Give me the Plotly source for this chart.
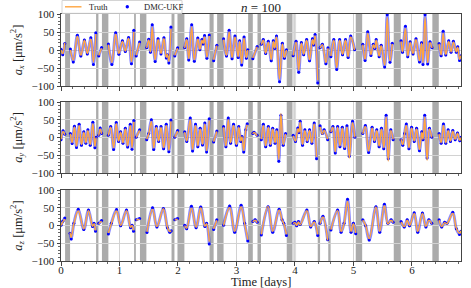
import plotly.graph_objects as go
from plotly.subplots import make_subplots

# gaps in the measurements (days)
GAP_START = [0.07, 0.60, 0.70, 1.25, 1.35, 1.89, 2.00, 2.54, 2.67, 3.20, 3.36, 3.86, 4.39, 4.57, 5.04, 5.69, 6.35]
GAP_END = [0.155, 0.64, 0.81, 1.28, 1.46, 1.94, 2.11, 2.61, 2.78, 3.28, 3.42, 3.96, 4.43, 4.61, 5.15, 5.81, 6.46]
GAP_LIGHT = [3.96, 4.02]

# a_x : turning points of each arc between gaps
T_AX = [
    [0.00, 0.03, 0.065],
    [0.16, 0.21, 0.28, 0.34, 0.40, 0.45, 0.51, 0.555, 0.595],
    [0.645, 0.695],
    [0.81, 0.87, 0.935, 0.99, 1.05, 1.10, 1.155, 1.205, 1.245],
    [1.285, 1.345],
    [1.465, 1.50, 1.53, 1.56, 1.61, 1.66, 1.71, 1.76, 1.80, 1.82, 1.845, 1.88],
    [1.945, 1.995],
    [2.115, 2.15, 2.185, 2.235, 2.28, 2.34, 2.375, 2.41, 2.43, 2.455, 2.495, 2.535],
    [2.61, 2.665],
    [2.78, 2.83, 2.875, 2.925, 2.975, 3.03, 3.055, 3.09, 3.13, 3.17, 3.195],
    [3.28, 3.355],
    [3.425, 3.46, 3.50, 3.545, 3.595, 3.63, 3.655, 3.685, 3.737, 3.785, 3.82, 3.855],
    [3.97, 4.02, 4.065, 4.11, 4.15, 4.20, 4.25, 4.30, 4.32, 4.345, 4.39],
    [4.43, 4.47, 4.53, 4.565],
    [4.615, 4.665, 4.715, 4.765, 4.815, 4.865, 4.91, 4.955, 5.02],
    [5.16, 5.20, 5.245, 5.30, 5.34, 5.365, 5.39, 5.44, 5.475, 5.535, 5.578, 5.625, 5.665],
    [5.815, 5.84, 5.89, 5.93, 5.97, 6.02, 6.07, 6.13, 6.165, 6.19, 6.225, 6.27, 6.31, 6.345],
    [6.465, 6.50, 6.535, 6.58, 6.63, 6.67, 6.71, 6.76, 6.785, 6.815, 6.84],
]
AX_TRUTH = [
    [0, -10, 20],
    [0, -28, 38, -15, 27, -10, 31, -33, 44],
    [-15, 5],
    [15, -34, 44, -10, 24, -3, 33, -32, 50],
    [-15, 20],
    [5, 28, -5, 63, -27, 29, -10, 32, -20, -12, -31, 58],
    [-15, 5],
    [5, 29, -24, 64, -27, 31, 2, 27, 18, 36, -20, 39],
    [-27, 12],
    [29, -15, 50, -21, 36, -19, 24, -37, 33, -21, 0],
    [-22, 9],
    [15, 27, -9, 22, -27, 24, 5, 36, -80, 17, -21, 0],
    [-15, 22, -56, 19, -12, 27, -27, 29, 15, 40, -84],
    [5, 15, -35, 5],
    [-17, 27, -49, 27, -12, 27, -19, 36, 0],
    [15, -26, 47, -13, 15, 5, 27, -17, 12, -42, 90, -30, 17],
    [24, -5, 60, -17, 21, -10, 29, -30, 19, -35, 90, -35, 21, 5],
    [17, -14, 47, -13, 24, -5, 22, -5, 8, -26, -15],
]
AX_UKF = [
    [2, -13, 18],
    [3, -33, 41, -17, 28, -11, 34, -40, 48],
    [-17, 7],
    [17, -40, 48, -12, 26, -4, 35, -38, 55],
    [-17, 22],
    [6, 30, -6, 70, -32, 31, -11, 34, -22, -13, -36, 64],
    [-17, 6],
    [6, 31, -28, 70, -31, 33, 1, 29, 17, 40, -23, 42],
    [-30, 13],
    [31, -17, 55, -24, 39, -21, 26, -42, 36, -23, 1],
    [-24, 10],
    [16, 29, -10, 24, -30, 26, 4, 39, -88, 19, -23, 1],
    [-16, 24, -62, 21, -13, 29, -30, 31, 14, 43, -92],
    [6, 16, -38, 6],
    [-19, 29, -54, 29, -13, 29, -21, 39, 1],
    [16, -29, 51, -15, 16, 4, 29, -19, 13, -47, 98, -34, 19],
    [26, -6, 66, -19, 23, -11, 31, -33, 20, -40, 98, -39, 23, 6],
    [18, -16, 52, -14, 26, -6, 24, -6, 9, -29, -16],
]

# a_y
T_AY = [
    [0.00, 0.035, 0.065],
    [0.16, 0.19, 0.23, 0.265, 0.31, 0.35, 0.39, 0.425, 0.46, 0.50, 0.545, 0.58, 0.60],
    [0.645, 0.67, 0.695],
    [0.81, 0.85, 0.90, 0.945, 0.985, 1.02, 1.06, 1.10, 1.14, 1.185, 1.215, 1.245],
    [1.285, 1.345],
    [1.465, 1.50, 1.545, 1.585, 1.63, 1.67, 1.71, 1.755, 1.80, 1.845, 1.88],
    [1.945, 1.995],
    [2.115, 2.15, 2.21, 2.25, 2.30, 2.34, 2.38, 2.42, 2.46, 2.49, 2.535],
    [2.61, 2.665],
    [2.78, 2.82, 2.86, 2.90, 2.95, 3.00, 3.04, 3.075, 3.095, 3.125, 3.16, 3.185],
    [3.28, 3.30, 3.355],
    [3.425, 3.46, 3.50, 3.545, 3.58, 3.62, 3.66, 3.69, 3.725, 3.76, 3.80, 3.84],
    [3.97, 4.01, 4.05, 4.07, 4.09, 4.13, 4.17, 4.21, 4.25, 4.29, 4.33, 4.37],
    [4.43, 4.47, 4.50, 4.56],
    [4.615, 4.65, 4.69, 4.73, 4.77, 4.81, 4.85, 4.89, 4.93, 4.985, 5.025],
    [5.16, 5.205, 5.26, 5.32, 5.36, 5.40, 5.44, 5.48, 5.52, 5.56, 5.595, 5.64, 5.68],
    [5.815, 5.845, 5.875, 5.905, 5.95, 5.995, 6.04, 6.08, 6.13, 6.17, 6.19, 6.22, 6.26, 6.30, 6.34],
    [6.465, 6.50, 6.54, 6.58, 6.62, 6.66, 6.70, 6.74, 6.78, 6.82, 6.84],
]
AY_TRUTH = [
    [-5, 17, 8],
    [10, -15, 30, -25, 34, -20, 15, -15, 20, -20, 39, -25, 0],
    [5, 24, 10],
    [5, 29, -29, 39, -10, 15, -15, 24, -24, 34, -29, 44],
    [0, 20],
    [-5, 10, 45, -30, 29, -10, 29, -29, 34, -36, 45],
    [0, 18],
    [15, -10, 50, -34, 34, -24, 24, -19, 38, -37, 48],
    [-12, 17],
    [29, -24, 50, -15, 34, -20, 29, -10, 2, -37, 20, 36],
    [10, 14, 5],
    [-5, 34, -24, 29, -20, 24, -15, 20, -62, 68, -20, 10],
    [5, -10, 25, 15, 43, -20, 20, -10, 20, -15, 38, -55],
    [30, 10, 20, -5],
    [15, 29, -40, 29, -24, 27, -29, 30, -58, 42, 0],
    [10, 31, -38, 27, -10, 20, -24, 24, -29, 58, -66, 20, -5],
    [-5, -20, 10, 34, -29, 27, -10, 24, -34, 15, -5, 58, -64, 24, 0],
    [10, -15, 34, -15, 20, -10, 18, -5, 12, -8, 0],
]
AY_UKF = [
    [-6, 19, 9],
    [11, -17, 32, -28, 37, -22, 16, -16, 22, -22, 43, -29, 1],
    [6, 27, 11],
    [6, 31, -34, 42, -11, 16, -16, 26, -27, 37, -33, 48],
    [1, 22],
    [-6, 11, 50, -34, 31, -11, 31, -32, 37, -40, 49],
    [1, 20],
    [16, -11, 55, -38, 37, -26, 26, -21, 41, -41, 53],
    [-13, 18],
    [31, -26, 55, -16, 37, -22, 31, -11, 3, -41, 22, 39],
    [11, 15, 6],
    [-6, 37, -26, 31, -22, 26, -16, 22, -67, 63, -22, 11],
    [6, -11, 27, 14, 46, -22, 22, -11, 22, -16, 41, -60],
    [33, 11, 22, -6],
    [16, 31, -44, 31, -26, 29, -31, 33, -53, 46, 1],
    [11, 34, -42, 29, -11, 22, -26, 26, -32, 63, -60, 22, -6],
    [-6, -22, 11, 38, -32, 29, -11, 26, -37, 16, -6, 63, -58, 26, 1],
    [11, -16, 38, -16, 22, -11, 20, -6, 13, -9, 1],
]

# a_z
T_AZ = [
    [0.00, 0.03, 0.065],
    [0.155, 0.175, 0.22, 0.295, 0.39, 0.47, 0.54, 0.565, 0.59],
    [0.645, 0.695],
    [0.81, 0.86, 0.95, 1.02, 1.12, 1.19, 1.215, 1.24],
    [1.285, 1.345],
    [1.47, 1.565, 1.64, 1.75, 1.82, 1.86, 1.885],
    [1.945, 1.995],
    [2.115, 2.15, 2.23, 2.31, 2.39, 2.46, 2.49, 2.535],
    [2.61, 2.665],
    [2.78, 2.884, 2.97, 3.08, 3.14, 3.195],
    [3.28, 3.32, 3.355],
    [3.425, 3.54, 3.62, 3.73, 3.78, 3.81, 3.855],
    [3.97, 4.00, 4.03, 4.06, 4.09, 4.204, 4.27, 4.33, 4.39],
    [4.43, 4.48, 4.56],
    [4.615, 4.73, 4.79, 4.84, 4.90, 4.96, 5.00, 5.04],
    [5.16, 5.21, 5.27, 5.385, 5.45, 5.53, 5.59, 5.645, 5.68],
    [5.815, 5.87, 5.92, 5.96, 6.04, 6.10, 6.18, 6.24, 6.29, 6.34],
    [6.465, 6.51, 6.56, 6.60, 6.70, 6.76, 6.815, 6.84],
]
AZ_TRUTH = [
    [0, 10, 18],
    [-20, -33, 5, 41, -10, 42, -2, 5, -14],
    [5, 12],
    [-21, 5, 41, 0, 42, -5, 0, -14],
    [15, 18],
    [-18, 45, -3, 47, -5, -17, -14],
    [15, 18],
    [0, -8, 49, -5, 50, -2, 5, -45],
    [-10, 15],
    [0, 50, -17, 53, 5, -40],
    [10, 15, 8],
    [-25, 54, -17, 44, 15, 5, -25],
    [5, 8, 0, 10, 2, 42, -3, 10, -25],
    [5, 24, -42],
    [-12, 42, -17, 5, 68, -17, 5, -21],
    [15, 0, -37, 52, -17, 56, 5, 15, 8],
    [10, -3, 15, 0, 34, -17, 34, -3, 15, 5],
    [15, -3, 8, 5, 34, -8, -22, -15],
]
AZ_UKF = [
    [1, 12, 21],
    [-22, -38, 6, 46, -11, 44, -3, 6, -16],
    [6, 14],
    [-24, 6, 45, -1, 44, -6, 1, -16],
    [16, 20],
    [-20, 50, -4, 48, -6, -19, -15],
    [16, 20],
    [1, -9, 54, -6, 52, -3, 6, -52],
    [-11, 16],
    [1, 55, -19, 57, 6, -44],
    [11, 16, 9],
    [-27, 53, -19, 46, 16, 6, -28],
    [6, 9, -1, 11, 3, 44, -4, 11, -28],
    [6, 26, -40],
    [-13, 44, -19, 6, 74, -19, 6, -23],
    [16, -1, -41, 53, -19, 60, 6, 16, 9],
    [11, -4, 16, -1, 36, -19, 35, -4, 16, 6],
    [16, -4, 9, 6, 37, -9, -25, -16],
]

YLABELS = [
    "<i>a<sub>x</sub></i> [μm/s<sup>2</sup>]",
    "<i>a<sub>y</sub></i> [μm/s<sup>2</sup>]",
    "<i>a<sub>z</sub></i> [μm/s<sup>2</sup>]",
]
LEGEND_LABELS = ["Truth", "DMC-UKF"]


def join(segs):
    out = []
    for i, s in enumerate(segs):
        if i:
            out.append(None)
        out.extend(s)
    return out


FONT = "Liberation Serif"
ORANGE = "#ffa540"
BLUE = "#0000ff"
W, H = 400.0, 247.0  # plot area size in px


def px(x):  # pixel -> paper x
    return (x - 61) / W


def py(y):  # pixel -> paper y
    return (261 - y) / H


fig = make_subplots(rows=3, cols=1, shared_xaxes=True)

panels = [(T_AX, AX_TRUTH, AX_UKF), (T_AY, AY_TRUTH, AY_UKF), (T_AZ, AZ_TRUTH, AZ_UKF)]
for r, (t, tr, uk) in enumerate(panels, start=1):
    tt = join(t)
    # dense estimate samples: translucent blue band with solid dots at the turning points
    fig.add_trace(go.Scatter(x=tt, y=join(uk), mode="lines",
                             line=dict(color="rgba(40,40,255,0.55)", width=3, shape="spline"),
                             hoverinfo="skip"), row=r, col=1)
    fig.add_trace(go.Scatter(x=tt, y=join(uk), mode="markers", marker=dict(color=BLUE, size=3),
                             name=LEGEND_LABELS[1]), row=r, col=1)
    fig.add_trace(go.Scatter(x=tt, y=join(tr), mode="lines",
                             line=dict(color=ORANGE, width=1.4, shape="spline"),
                             name=LEGEND_LABELS[0]), row=r, col=1)

    suffix = "" if r == 1 else str(r)
    for a, b in zip(GAP_START, GAP_END):
        fig.add_shape(type="rect", xref="x" + suffix, yref="y" + suffix + " domain",
                      x0=a, x1=b, y0=0, y1=1, fillcolor="#ababab", line_width=0, layer="below")
    fig.add_shape(type="rect", xref="x" + suffix, yref="y" + suffix + " domain",
                  x0=GAP_LIGHT[0], x1=GAP_LIGHT[1], y0=0, y1=1, fillcolor="#dedede", line_width=0, layer="below")

doms = [[py(86), 1.0], [py(173), py(102)], [0.0, py(190)]]
for r in range(1, 4):
    fig.update_yaxes(row=r, col=1, range=[-100, 100], domain=doms[r - 1], dtick=50, tick0=0,
                     showgrid=True, gridcolor="#d2d2d2", gridwidth=1, zeroline=False,
                     showline=True, linecolor="#444", linewidth=1, mirror=True,
                     ticks="outside", ticklen=3.5, tickcolor="#444",
                     minor=dict(dtick=10, ticks="outside", ticklen=2, tickcolor="#666", showgrid=False),
                     tickfont=dict(family=FONT, size=11, color="#222"),
                     title=dict(text=YLABELS[r - 1], font=dict(family=FONT, size=12.5, color="#222"), standoff=6))
    fig.update_xaxes(row=r, col=1, range=[0, 6.84], dtick=1, tick0=0,
                     showgrid=True, gridcolor="#d2d2d2", gridwidth=1, zeroline=False,
                     showline=True, linecolor="#444", linewidth=1, mirror=True,
                     ticks="outside", ticklen=3.5, tickcolor="#444",
                     minor=dict(dtick=0.2, ticks="outside", ticklen=2, tickcolor="#666", showgrid=False),
                     tickfont=dict(family=FONT, size=11, color="#222"),
                     ticklabelstandoff=-5,
                     showticklabels=(r == 3))

fig.add_annotation(text="Time [days]", xref="paper", yref="paper", x=0.5, y=py(281.5),
                   xanchor="center", yanchor="middle", showarrow=False,
                   font=dict(family=FONT, size=12.5, color="#222"))

# compact legend box above the top panel, like the matplotlib one
fig.add_shape(type="rect", xref="paper", yref="paper", x0=px(62), x1=px(182), y0=py(13.3), y1=py(0.5),
              line=dict(color="#d4d4d4", width=1), fillcolor="white")
fig.add_shape(type="line", xref="paper", yref="paper", x0=px(65), x1=px(81.5), y0=py(6.8), y1=py(6.8),
              line=dict(color=ORANGE, width=1.4))
fig.add_shape(type="circle", xref="paper", yref="paper", x0=px(125.6), x1=px(129), y0=py(8.5), y1=py(5.1),
              line_width=0, fillcolor=BLUE)
fig.add_annotation(text=LEGEND_LABELS[0], xref="paper", yref="paper", x=px(86.5), y=py(7),
                   xanchor="left", yanchor="middle", showarrow=False,
                   font=dict(family=FONT, size=8.5, color="#222"))
fig.add_annotation(text=LEGEND_LABELS[1], xref="paper", yref="paper", x=px(142), y=py(7),
                   xanchor="left", yanchor="middle", showarrow=False,
                   font=dict(family=FONT, size=8.5, color="#222"))

fig.update_layout(
    width=471, height=288,
    margin=dict(l=61, r=10, t=14, b=27, autoexpand=False),
    paper_bgcolor="white", plot_bgcolor="white",
    title=dict(text="<i>n</i> = 100", x=0.5, xref="paper", y=1 - 7 / 288, yanchor="middle",
               font=dict(family=FONT, size=13, color="#222")),
    showlegend=False,
)

fig.write_html("out.html", config={"displayModeBar": False},
               post_script="document.body.style.margin='0px';")
